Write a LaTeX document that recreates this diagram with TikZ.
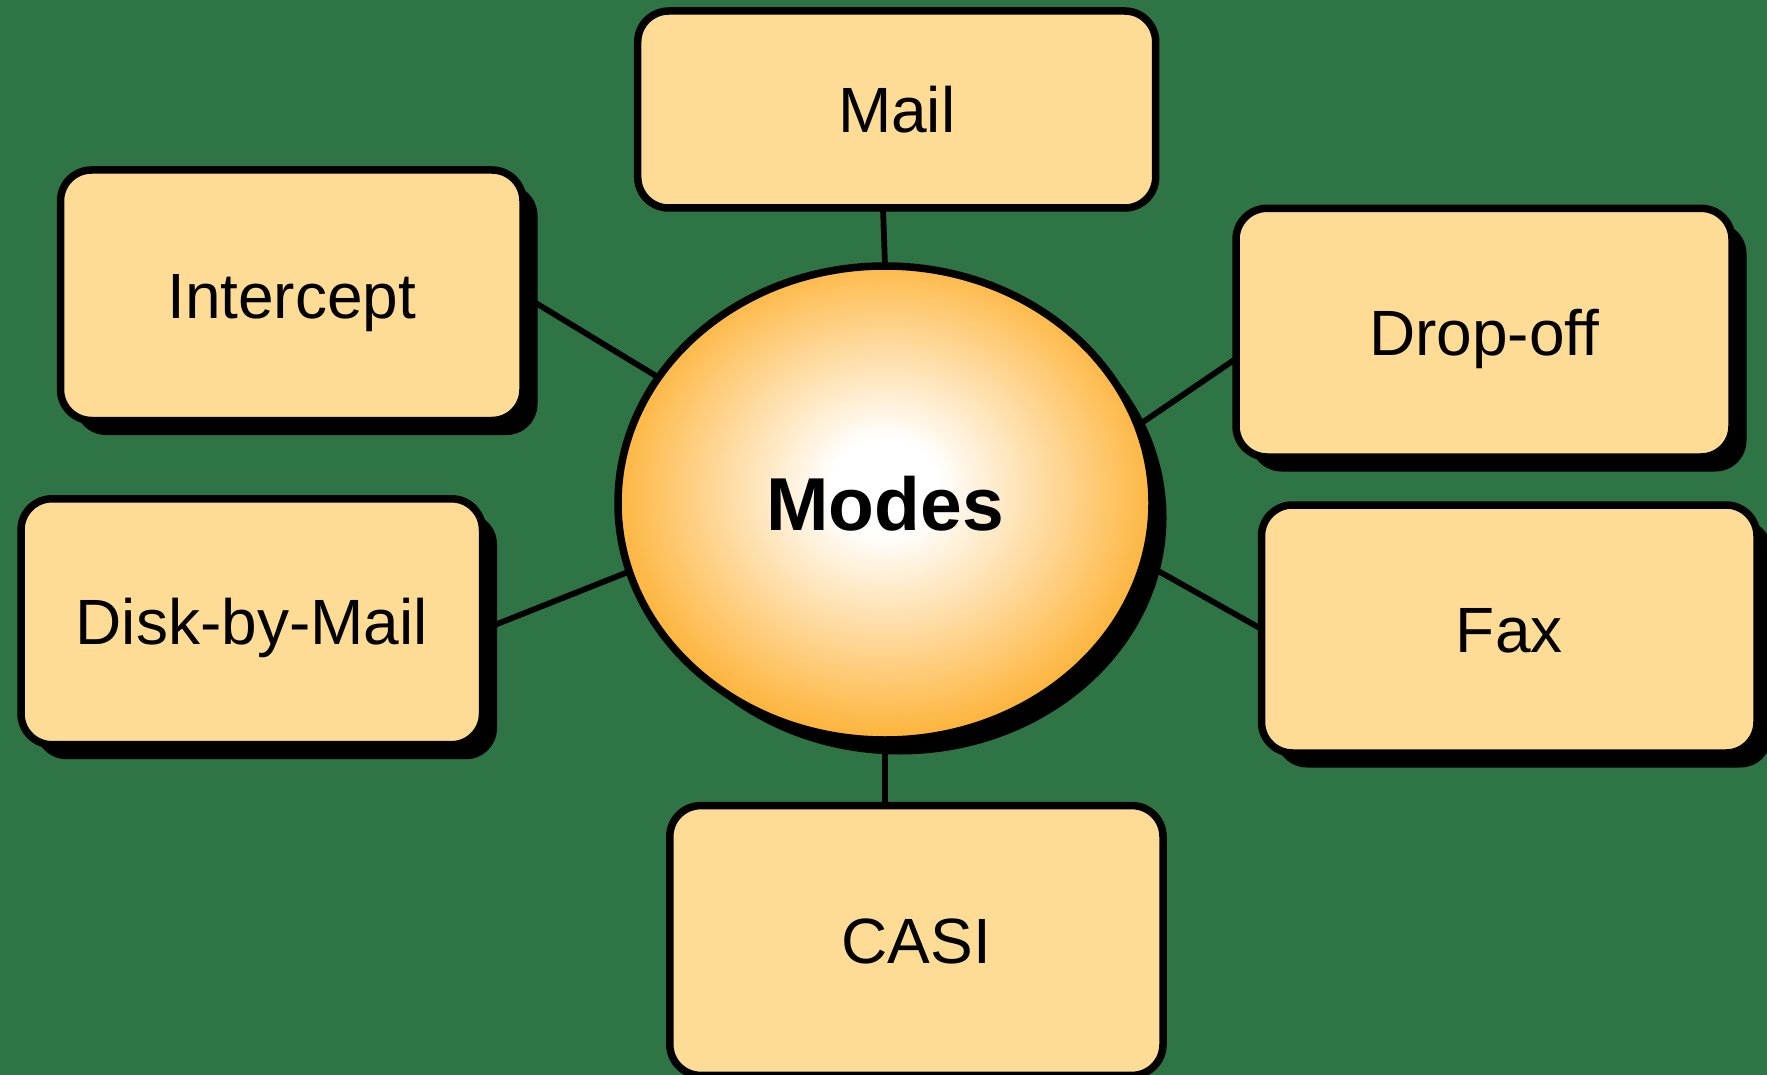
\documentclass[tikz,border=0pt]{standalone}
\usepackage{fontspec}
\setmainfont{Liberation Sans}
\usetikzlibrary{shapes.geometric,shadows}

\definecolor{fieldgreen}{RGB}{46,116,68}
\definecolor{cardfill}{RGB}{255,220,150}
\definecolor{glowedge}{RGB}{253,168,28}

% white core fading to orange at the rim
\pgfdeclareradialshading{modesglow}{\pgfpoint{0bp}{2bp}}{%
  color(0bp)=(white); color(5bp)=(white); color(29bp)=(glowedge); color(50bp)=(glowedge)}

\pgfdeclarelayer{back}
\pgfsetlayers{back,main}

\begin{document}
\begin{tikzpicture}[x=0.5pt,y=-0.5pt,
  card/.style={rectangle, rounded corners=15.5pt, draw=black, line width=3.75pt,
    fill=cardfill, inner sep=0pt, outer sep=0pt,
    font=\fontsize{32}{38}\selectfont, text height=23pt, text depth=0pt},
  shadowed/.style={drop shadow={fill=black, opacity=1,
    shadow xshift=7.25pt, shadow yshift=-7.25pt}},
  hub/.style={ellipse, draw=black, line width=3.75pt, shading=modesglow,
    inner sep=0pt, outer sep=0pt,
    font=\bfseries\fontsize{37.5}{44}\selectfont, text height=27pt, text depth=0pt},
  link/.style={draw=black, line width=2.9pt}]

\useasboundingbox (0,0) rectangle (1767,1075);

% central hub
\node[hub, shadowed, minimum width=267pt, minimum height=237pt] (modes) at (885,503) {Modes};

% surrounding modes
\node[card, minimum width=259pt, minimum height=98.5pt] (mail) at (896.7,109.5) {Mail};
\node[card, shadowed, minimum width=231.25pt, minimum height=125.25pt] (intercept) at (291.75,295.25) {Intercept};
\node[card, shadowed, minimum width=248pt, minimum height=124.35pt] (dropoff) at (1484,332.65) {Drop-off};
\node[card, shadowed, minimum width=230.75pt, minimum height=122.95pt] (disk) at (251.75,621.75) {Disk-by-Mail};
\node[card, shadowed, minimum width=247.75pt, minimum height=124pt] (fax) at (1509.25,629) {Fax};
\node[card, minimum width=246.6pt, minimum height=134.9pt] (casi) at (916.4,940.5) {CASI};

% backdrop and spokes, kept behind the shapes
\begin{pgfonlayer}{back}
  \fill[fieldgreen] (0,0) rectangle (1767,1075);
  \draw[link] (modes.north) -- ([xshift=-1pt]modes.north |- mail.south);
  \draw[link] (intercept.east) -- (modes.151.8);
  \draw[link] (dropoff.186) -- (modes.17.4);
  \draw[link] (disk.-2.6) -- (modes.195.4);
  \draw[link] (fax.west) -- (modes.-13.5);
  \draw[link] (modes.south) -- (modes.south |- casi.north);
\end{pgfonlayer}
\end{tikzpicture}
\end{document}
